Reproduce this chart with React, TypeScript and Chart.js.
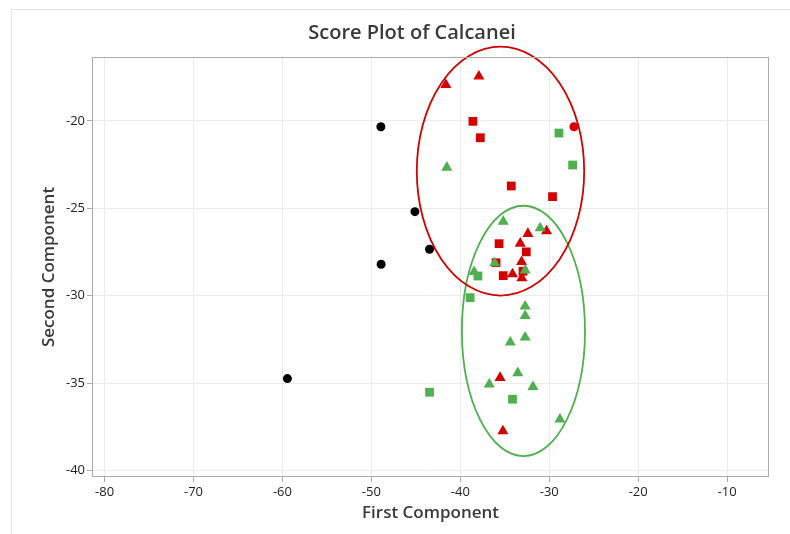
import React, { useEffect, useRef } from 'react';
import { Chart, registerables } from 'chart.js';

Chart.register(...registerables);

const TITLE = 'Score Plot of Calcanei';
const X_TITLE = 'First Component';
const Y_TITLE = 'Second Component';

const xTicks = [-80, -70, -60, -50, -40, -30, -20, -10];
const yTicks = [-20, -25, -30, -35, -40];

const blackCircleX = [-48.93, -45.1, -43.46, -48.9, -59.44];
const blackCircleY = [-20.33, -25.19, -27.34, -28.2, -34.74];

const redCircleX = [-27.22];
const redCircleY = [-20.33];

const redTriangleX = [-41.62, -37.91, -30.3, -32.4, -33.26, -33.11, -34.13, -33.08, -35.53, -35.21];
const redTriangleY = [-17.93, -17.45, -26.3, -26.45, -27.01, -28.06, -28.76, -28.99, -34.69, -37.74];

const redSquareX = [-38.58, -37.75, -34.27, -29.63, -35.64, -32.58, -35.98, -32.95, -35.17];
const redSquareY = [-20.02, -20.96, -23.72, -24.33, -27.02, -27.49, -28.11, -28.6, -28.85];

const greenSquareX = [-28.91, -27.37, -38.02, -38.9, -43.46, -34.13];
const greenSquareY = [-20.69, -22.52, -28.87, -30.11, -35.52, -35.92];

const greenTriangleX = [-41.51, -35.17, -31.02, -36.13, -32.7, -38.45, -32.71, -32.71, -32.71, -34.38, -33.54, -36.74, -31.83, -28.8];
const greenTriangleY = [-22.66, -25.75, -26.13, -28.13, -28.55, -28.63, -30.61, -31.15, -32.38, -32.67, -34.42, -35.07, -35.21, -37.07];

// confidence ellipses: centre x, centre y, semi-axis x, semi-axis y
const redEllipse = [-35.48, -22.87, 9.41, 7.12];
const greenEllipse = [-32.9, -32.01, 6.92, 7.16];

const RED = '#d40000';
const GREEN = '#4fb04f';
const BLACK = '#000000';

const pts = (xs: number[], ys: number[]) => xs.map((x, i) => ({ x, y: ys[i] }));

export default function App() {
  const ref = useRef<HTMLCanvasElement | null>(null);

  useEffect(() => {
    if (!ref.current) return;

    const overlay = {
      id: 'overlay',
      beforeDatasetsDraw(chart: any) {
        const { ctx, scales } = chart;
        const xs = scales.x;
        const ys = scales.y;
        const drawEll = (e: number[], color: string) => {
          const cx = xs.getPixelForValue(e[0]);
          const cy = ys.getPixelForValue(e[1]);
          const rx = Math.abs(xs.getPixelForValue(e[0] + e[2]) - cx);
          const ry = Math.abs(ys.getPixelForValue(e[1] + e[3]) - cy);
          ctx.save();
          ctx.beginPath();
          ctx.ellipse(cx, cy, rx, ry, 0, 0, Math.PI * 2);
          ctx.strokeStyle = color;
          ctx.lineWidth = 1.8;
          ctx.stroke();
          ctx.restore();
        };
        drawEll(greenEllipse, GREEN);
        drawEll(redEllipse, RED);
      },
      afterDraw(chart: any) {
        const { ctx, chartArea } = chart;
        ctx.save();
        // outer frame
        ctx.strokeStyle = '#e3e3e3';
        ctx.lineWidth = 1;
        ctx.beginPath();
        ctx.moveTo(11.5, 540);
        ctx.lineTo(11.5, 9.5);
        ctx.lineTo(800, 9.5);
        ctx.stroke();
        // plot frame
        ctx.strokeStyle = '#ababab';
        ctx.strokeRect(chartArea.left + 0.5, chartArea.top + 0.5, chartArea.right - chartArea.left - 1, chartArea.bottom - chartArea.top - 1);
        // texts
        ctx.fillStyle = '#3a3a3a';
        ctx.textAlign = 'center';
        ctx.textBaseline = 'middle';
        ctx.font = '600 20px "Open Sans"';
        ctx.fillText(TITLE, 412, 33);
        ctx.font = '600 17px "Open Sans"';
        ctx.fillText(X_TITLE, (chartArea.left + chartArea.right) / 2, 513);
        ctx.translate(49, (chartArea.top + chartArea.bottom) / 2);
        ctx.rotate(-Math.PI / 2);
        ctx.fillText(Y_TITLE, 0, 0);
        ctx.restore();
      },
    };

    const mk = (data: any[], color: string, style: string, r: number) => ({
      data,
      pointStyle: style,
      pointRadius: r,
      pointHoverRadius: r,
      backgroundColor: color,
      borderColor: color,
      borderWidth: 0,
      showLine: false,
    });

    const chart = new Chart(ref.current, {
      type: 'scatter',
      data: {
        datasets: [
          mk(pts(greenSquareX, greenSquareY), GREEN, 'rect', 6.2),
          mk(pts(greenTriangleX, greenTriangleY), GREEN, 'triangle', 6.4),
          mk(pts(redSquareX, redSquareY), RED, 'rect', 6.2),
          mk(pts(redTriangleX, redTriangleY), RED, 'triangle', 6.4),
          mk(pts(redCircleX, redCircleY), RED, 'circle', 4.5),
          mk(pts(blackCircleX, blackCircleY), BLACK, 'circle', 4.5),
        ] as any,
      },
      options: {
        animation: false,
        responsive: false,
        maintainAspectRatio: false,
        layout: { padding: { top: 57, right: 21, left: 0, bottom: 0 } },
        plugins: {
          legend: { display: false },
          title: { display: false },
          tooltip: { enabled: false },
        },
        scales: {
          x: {
            type: 'linear',
            min: -81.41,
            max: -5.29,
            afterBuildTicks: (s: any) => {
              s.ticks = xTicks.map((v) => ({ value: v }));
            },
            afterFit: (s: any) => {
              s.height = 57;
            },
            grid: { color: '#ebebeb', tickColor: '#ababab', tickLength: 5, drawTicks: true },
            border: { display: false },
            ticks: {
              color: '#222222',
              font: { family: '"Open Sans"', size: 13 },
              padding: 2,
              maxRotation: 0,
              callback: (v: any) => String(v),
            },
          },
          y: {
            type: 'linear',
            min: -40.37,
            max: -16.34,
            afterBuildTicks: (s: any) => {
              s.ticks = yTicks.map((v) => ({ value: v }));
            },
            afterFit: (s: any) => {
              s.width = 92;
            },
            grid: { color: '#ebebeb', tickColor: '#ababab', tickLength: 5, drawTicks: true },
            border: { display: false },
            ticks: {
              color: '#222222',
              font: { family: '"Open Sans"', size: 13 },
              padding: 2,
              callback: (v: any) => String(v),
            },
          },
        },
      },
      plugins: [overlay],
    });

    return () => chart.destroy();
  }, []);

  return (
    <div style={{ position: 'fixed', left: 0, top: 0, width: 790, height: 534, background: '#ffffff' }}>
      <canvas ref={ref} width={790} height={534} style={{ width: 790, height: 534, display: 'block' }} />
    </div>
  );
}
